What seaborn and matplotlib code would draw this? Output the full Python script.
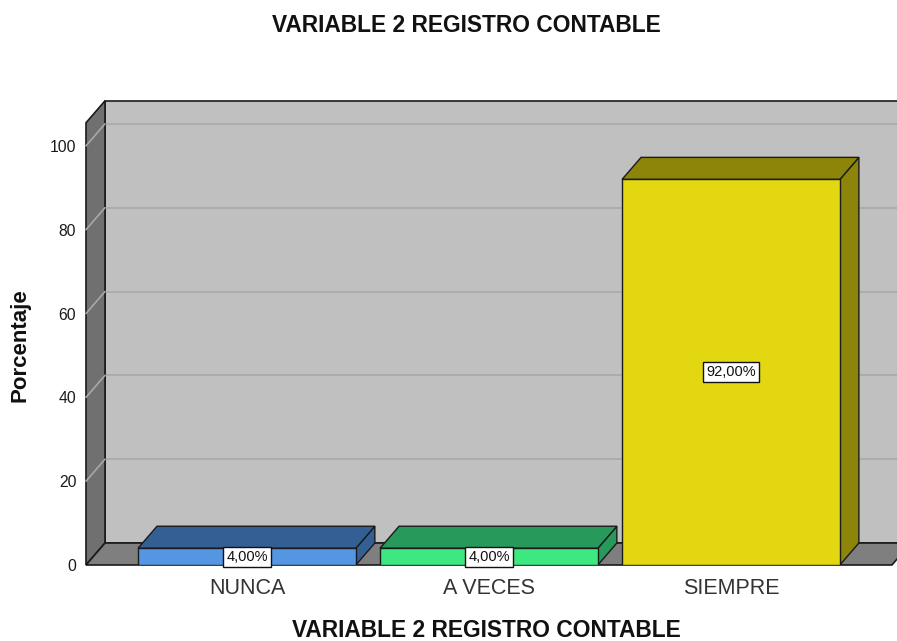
import matplotlib
matplotlib.use("Agg")
import matplotlib.pyplot as plt
import seaborn as sns
import pandas as pd
from matplotlib.patches import Polygon

categories = ["NUNCA", "A VECES", "SIEMPRE"]
percentages = [4.0, 4.0, 92.0]
value_labels = ["4,00%", "4,00%", "92,00%"]
front_colors = ["#5596E3", "#3EE880", "#E3D712"]
shade_colors = ["#345F94", "#27995B", "#8C850A"]
yticks = [0, 20, 40, 60, 80, 100]
title_text = "VARIABLE 2 REGISTRO CONTABLE"
xlabel_text = "VARIABLE 2 REGISTRO CONTABLE"
ylabel_text = "Porcentaje"

sns.set_theme(style="white")
plt.rcParams['font.family'] = ['Liberation Sans', 'DejaVu Sans']

W, H = 897, 641
fig = plt.figure(figsize=(W / 100, H / 100), dpi=100)
# axes in pixel terms: left 86, right 897, bottom 565, top 101
ax = fig.add_axes([86 / W, 1 - 565 / H, (897 - 86) / W, (565 - 101) / H])
ax.set_facecolor("none")

df = pd.DataFrame({"cat": categories, "pct": percentages})
sns.barplot(data=df, x="cat", y="pct", hue="cat", palette=front_colors,
            width=0.9, legend=False, ax=ax, edgecolor="#1a1a1a", linewidth=1.0,
            zorder=5, saturation=1)

xl = (-0.665, 2.686)
ax.set_xlim(*xl)
ax.set_ylim(0, 110.7)
ax_w_px = 897 - 86
ax_h_px = 565 - 101
dx = 19 * (xl[1] - xl[0]) / ax_w_px
dy = 22 * 110.7 / ax_h_px
top = 105.5
x0 = xl[0]
xr_front = 2.665

# back wall
ax.add_patch(Polygon([(x0 + dx, dy), (x0 + dx, top + dy), (xl[1] + 0.1, top + dy), (xl[1] + 0.1, dy)],
                     closed=True, facecolor="#C0C0C0", edgecolor="#1a1a1a", linewidth=1.2, zorder=0, clip_on=False))
# left wall
ax.add_patch(Polygon([(x0, 0), (x0, top), (x0 + dx, top + dy), (x0 + dx, dy)],
                     closed=True, facecolor="#707070", edgecolor="#1a1a1a", linewidth=1.2, zorder=1, clip_on=False))
# floor
ax.add_patch(Polygon([(x0, 0), (xr_front, 0), (xr_front + dx, dy), (x0 + dx, dy)],
                     closed=True, facecolor="#7F7F7F", edgecolor="#1a1a1a", linewidth=1.2, zorder=2, clip_on=False))
# gridlines
for v in yticks[1:]:
    ax.plot([x0 + dx, xl[1] + 0.1], [v + dy, v + dy], color="#ACACAC", lw=1.4, zorder=0.5, clip_on=False)
    ax.plot([x0, x0 + dx], [v, v + dy], color="#A8A8A8", lw=1.2, zorder=1.5, clip_on=False)

# 3D faces for bars
bars = [pp for pp in ax.patches if pp.get_zorder() == 5]
for i, p in enumerate(bars):
    bx, bw, bh = p.get_x(), p.get_width(), p.get_height()
    topface = [(bx, bh), (bx + dx, bh + dy), (bx + bw + dx, bh + dy), (bx + bw, bh)]
    side = [(bx + bw, 0), (bx + bw, bh), (bx + bw + dx, bh + dy), (bx + bw + dx, dy)]
    ax.add_patch(Polygon(side, closed=True, facecolor=shade_colors[i], edgecolor="#1a1a1a", lw=1.0, zorder=4))
    ax.add_patch(Polygon(topface, closed=True, facecolor=shade_colors[i], edgecolor="#1a1a1a", lw=1.0, zorder=4))
    ax.text(bx + bw / 2, bh / 2, value_labels[i], ha="center", va="center", fontsize=10.5,
            color="#111111", zorder=10,
            bbox=dict(boxstyle="square,pad=0.2", facecolor="white", edgecolor="#111111", linewidth=1.0))

for s in ax.spines.values():
    s.set_visible(False)
ax.set_yticks(yticks)
ax.set_yticklabels([str(t) for t in yticks])
ax.tick_params(axis="y", length=0, pad=7, labelsize=11.3, labelcolor="#1a1a1a")
ax.tick_params(axis="x", length=0, pad=9, labelsize=15.5, labelcolor="#333333")
ax.set_xlabel("")
ax.set_ylabel("")

fig.text(466 / W, 1 - 32 / H, title_text, ha="center", va="baseline", fontsize=16.4, fontweight="bold", color="#111111")
fig.text(486 / W, 1 - 637 / H, xlabel_text, ha="center", va="baseline", fontsize=16.4, fontweight="bold", color="#111111")
fig.text(20 / W, 1 - 345 / H, ylabel_text, ha="center", va="center", rotation=90, fontsize=16, fontweight="bold", color="#111111")

fig.savefig("out.png", dpi=100, facecolor="white")
